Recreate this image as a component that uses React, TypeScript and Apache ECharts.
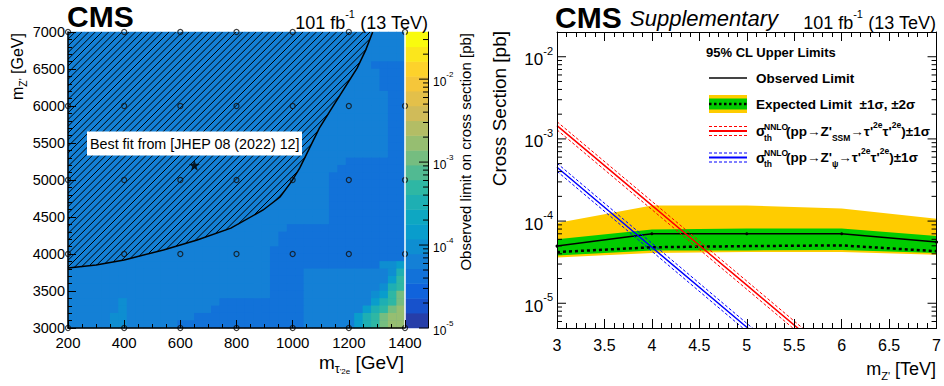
import React, { useEffect, useRef } from "react";
import * as echarts from "echarts";

const FONT = "'Liberation Sans', Arial, Helvetica, sans-serif";

// ================= Left panel: (m_tau', m_Z') scan =================
const tauAxisRange = [200, 1400];
const zAxisRange = [3000, 7000];
const tauScanPoints = [200, 400, 600, 800, 1000, 1200, 1400];
const zScanPoints = [3000, 4000, 5000, 6000, 7000];
const bestFit = [650, 5200];
// observed exclusion contour (GeV, GeV)
const exclusionContour = [
  [200, 3810], [300, 3850], [400, 3920], [540, 4055], [660, 4190], [780, 4350],
  [895, 4595], [955, 4770], [995, 4975], [1025, 5160], [1060, 5430], [1095, 5700],
  [1140, 5975], [1185, 6245], [1230, 6515], [1260, 6755], [1285, 7000],
];
// observed limit (pb) for each colour class seen in the map
const limitLevels: Record<string, number> = {
  A: 4.2e-5, B: 6.4e-5, C: 9.6e-5, D: 1.45e-4, E: 3.3e-4, F: 5.2e-4, G: 1.1e-3, H: 1.7e-3,
};
// 40 x 40 cells (30 GeV x 100 GeV), run-length encoded, top row (6900-7000 GeV) first
const limitRows = [
  "40B", "40B", "40B", "40B",
  "36B 4A", "37B 3A", "37B 3A", "37B 3A",
  "38B 2A", "38B 2A", "38B 2A", "38B 2A", "38B 2A", "38B 2A", "38B 2A", "38B 2A", "38B 2A",
  "33B 7A", "32B 8A",
  "31B 9A", "31B 9A", "31B 9A", "31B 9A", "31B 9A", "31B 9A", "31B 9A",
  "26B 14A", "25B 15A", "25B 15A", "24B 16A", "24B 16A",
  "24B 13A 2C 1D",
  "24B 4A 10B 1C 1E",
  "24B 4A 10B 1D 1F",
  "24B 4A 9B 1C 1E 1F",
  "24B 4A 8B 1C 1D 1F 1G",
  "6B 1C 11B 10A 8B 1D 1E 1F 1G",
  "6B 1C 10B 11A 7B 1D 1E 1F 1G 1H",
  "5B 2C 8B 13A 6B 1D 1E 1F 1G 2H",
  "5B 2C 6B 15A 6B 1D 1E 1F 1G 2H",
];
const colorbarRange = [1e-5, 0.037];
const colorbarContours = 20;
const colorbarDecades = [1e-5, 1e-4, 1e-3, 1e-2];

// ================= Right panel: limits vs m_Z' =================
const mZprime = [3, 4, 5, 6, 7];
const observedLimit = [4.96e-5, 7.0e-5, 7.0e-5, 7.0e-5, 5.55e-5];
const expectedLimit = [4.2e-5, 4.8e-5, 4.96e-5, 5.06e-5, 4.3e-5];
const expected1Up = [6.0e-5, 7.9e-5, 8.1e-5, 8.1e-5, 6.6e-5];
const expected1Down = [3.8e-5, 4.4e-5, 4.4e-5, 4.45e-5, 4.1e-5];
const expected2Up = [9.5e-5, 1.55e-4, 1.55e-4, 1.42e-4, 1.07e-4];
const expected2Down = [3.6e-5, 4.1e-5, 4.2e-5, 4.2e-5, 3.9e-5];
const xsecSSM = [1.45e-3, 1.55e-4, 1.66e-5, 1.77e-6, 1.9e-7];
const xsecSSMUp = [1.62e-3, 1.74e-4, 1.86e-5, 1.98e-6, 2.1e-7];
const xsecSSMDown = [1.29e-3, 1.38e-4, 1.48e-5, 1.58e-6, 1.7e-7];
const xsecPsi = [4.52e-4, 4.8e-5, 5.1e-6, 5.4e-7, 5.7e-8];
const xsecPsiUp = [5.06e-4, 5.38e-5, 5.7e-6, 6.05e-7, 6.4e-8];
const xsecPsiDown = [4.04e-4, 4.29e-5, 4.55e-6, 4.8e-7, 5.1e-8];
const rightXRange = [3, 7];
const rightYRange = [5e-6, 2e-2];
const rightYDecades = [1e-5, 1e-4, 1e-3, 1e-2];

// ---------- helpers ----------
const birdStops = [0, 0.125, 0.25, 0.375, 0.5, 0.625, 0.75, 0.875, 1];
const birdR = [0.2082, 0.0592, 0.078, 0.0232, 0.1802, 0.5301, 0.8186, 0.9956, 0.9764];
const birdG = [0.1664, 0.3599, 0.5041, 0.6419, 0.7178, 0.7492, 0.7328, 0.7862, 0.9832];
const birdB = [0.5293, 0.8684, 0.8385, 0.7914, 0.6425, 0.4662, 0.3499, 0.1968, 0.0539];
function bird(f: number): string {
  let k = 0;
  while (k < birdStops.length - 2 && f > birdStops[k + 1]) k++;
  const t = (f - birdStops[k]) / (birdStops[k + 1] - birdStops[k]);
  const c = (a: number[]) => Math.round(255 * (a[k] + t * (a[k + 1] - a[k])));
  return `rgb(${c(birdR)},${c(birdG)},${c(birdB)})`;
}

function decodeRow(s: string): string[] {
  const out: string[] = [];
  s.split(" ").forEach((tok) => {
    const n = parseInt(tok, 10);
    const ch = tok.replace(/\d+/g, "");
    for (let k = 0; k < n; k++) out.push(ch);
  });
  return out;
}

function decadeMinors(decades: number[], lo: number, hi: number): number[] {
  const out: number[] = [];
  const all = [decades[0] / 10, ...decades];
  all.forEach((d) => {
    for (let m = 2; m <= 9; m++) {
      const v = d * m;
      if (v > lo * 1.0001 && v < hi * 0.9999) out.push(v);
    }
  });
  return out;
}

function hatchSegments(poly: number[][], step: number): number[][] {
  const sums = poly.map((p) => p[0] + p[1]);
  const sMin = Math.min(...sums);
  const sMax = Math.max(...sums);
  const segs: number[][] = [];
  for (let c = Math.ceil(sMin / step) * step; c <= sMax; c += step) {
    const xs: number[] = [];
    for (let k = 0; k < poly.length; k++) {
      const a = poly[k];
      const b = poly[(k + 1) % poly.length];
      const fa = a[0] + a[1] - c;
      const fb = b[0] + b[1] - c;
      if (fa < 0 !== fb < 0) {
        const t = fa / (fa - fb);
        xs.push(a[0] + t * (b[0] - a[0]));
      }
    }
    xs.sort((u, v) => u - v);
    for (let k = 0; k + 1 < xs.length; k += 2) segs.push([xs[k], c - xs[k], xs[k + 1], c - xs[k + 1]]);
  }
  return segs;
}

const isDecade = (v: number) => Math.abs(Math.log10(v) - Math.round(Math.log10(v))) < 1e-6;

function buildOption(): any {
  const nRows = limitRows.length;
  const nCols = decodeRow(limitRows[0]).length;
  const heatData: number[][] = [];
  limitRows.forEach((row, r) => {
    const j = nRows - 1 - r;
    decodeRow(row).forEach((ch, i) => heatData.push([i, j, Math.log10(limitLevels[ch])]));
  });

  const logMin = Math.log10(colorbarRange[0]);
  const logMax = Math.log10(colorbarRange[1]);
  const bw = (logMax - logMin) / colorbarContours;
  const pieces: any[] = [];
  const cbarData: number[][] = [];
  for (let k = 0; k < colorbarContours; k++) {
    const p: any = { gte: logMin + k * bw, color: bird((k + 0.99) / colorbarContours) };
    if (k < colorbarContours - 1) p.lt = logMin + (k + 1) * bw;
    else p.lte = logMax + 1;
    if (k === 0) p.gte = logMin - 1;
    pieces.push(p);
    cbarData.push([0, k, logMin + (k + 0.5) * bw]);
  }

  const scanData: number[][] = [];
  zScanPoints.forEach((z) => tauScanPoints.forEach((t) => scanData.push([t, z])));

  const cbarMinors = decadeMinors(colorbarDecades, colorbarRange[0], colorbarRange[1]);
  const cbarTicks = [...colorbarDecades.map((v) => [1, v, 1]), ...cbarMinors.map((v) => [1, v, 0])];
  const rightMinors = decadeMinors(rightYDecades, rightYRange[0], rightYRange[1]);
  const rightTicks = [...rightYDecades.map((v) => [3, v, 1]), ...rightMinors.map((v) => [3, v, 0])];

  const black = "#000";
  const label = (size: number, margin: number) => ({
    fontSize: size, color: black, fontFamily: FONT, margin,
    formatter: (v: number) => String(v),
  });
  const supLabel = (base: number, sup: number, margin: number) => ({
    margin,
    formatter: (v: number) => (isDecade(v) ? `{b|10}{s|${Math.round(Math.log10(v))}}` : ""),
    rich: {
      b: { fontSize: base, fontFamily: FONT, color: black, lineHeight: base + 6, verticalAlign: "bottom" },
      s: { fontSize: sup, fontFamily: FONT, color: black, lineHeight: sup + 1, verticalAlign: "top" },
    },
  });

  const line = (vals: number[], color: string, width: number, type: any, z = 6) => ({
    type: "line",
    xAxisIndex: 4,
    yAxisIndex: 5,
    data: mZprime.map((m, i) => [m, vals[i]]),
    symbol: "none",
    silent: true,
    z,
    lineStyle: { color, width, type },
  });

  const band = (up: number[], down: number[], color: string, z: number) => ({
    type: "custom",
    xAxisIndex: 4,
    yAxisIndex: 5,
    z,
    silent: true,
    data: [[mZprime[0], up[0]]],
    renderItem: (_p: any, api: any) => {
      const pts = [
        ...mZprime.map((m, i) => api.coord([m, up[i]])),
        ...mZprime.map((m, i) => api.coord([m, down[i]])).reverse(),
      ];
      return { type: "polygon", shape: { points: pts }, style: { fill: color } };
    },
  });

  // ---------- graphics (texts, legend) ----------
  const T = (x: number, y: number, text: string, style: any = {}, extra: any = {}) => ({
    type: "text",
    x,
    y,
    z: 100,
    silent: true,
    style: { text, fontFamily: FONT, fill: black, verticalAlign: "middle", align: "left", ...style },
    ...extra,
  });
  const R = (fs: number, lh: number, va: string, bold = false, italic = false) => ({
    fontSize: fs, fontFamily: FONT, fill: black, lineHeight: lh, verticalAlign: va,
    fontWeight: bold ? "bold" : "normal", fontStyle: italic ? "italic" : "normal",
  });
  const lumi = (x: number, y: number) =>
    T(x, y, "{a|101 fb}{s|-1}{a| (13 TeV)}", {
      align: "right",
      rich: { a: R(18, 24, "bottom"), s: R(11, 12, "top") },
    });
  const L = (x1: number, y1: number, x2: number, y2: number, stroke: string, lineWidth: number, lineDash?: number[]) => ({
    type: "line", z: 100, silent: true,
    shape: { x1, y1, x2, y2 },
    style: { stroke, lineWidth, lineDash },
  });
  const legRich = {
    m: R(13.5, 22, "middle", true),
    b: R(8.5, 15, "bottom", true),
    t: R(8.5, 13, "top", true),
  };
  const graphic = [
    // headers
    T(67, 16, "CMS", { fontSize: 30, fontWeight: "bold" }),
    lumi(428, 20),
    T(555, 17, "CMS", { fontSize: 30, fontWeight: "bold" }),
    T(630, 18, "Supplementary", { fontSize: 22, fontStyle: "italic" }),
    lumi(936, 20),
    // axis titles
    T(17.5, 33, "{a|m}{b|Z'}{a| [GeV]}", { align: "right", rich: { a: R(16, 22, "middle"), b: R(10.5, 16, "bottom") } }, { rotation: Math.PI / 2 }),
    T(404, 362, "{a|m}{b|τ}{c|'2e}{a| [GeV]}", {
      align: "right",
      rich: { a: R(19, 26, "middle"), b: R(12.5, 19, "bottom"), c: R(8, 17, "bottom") },
    }),
    T(465.5, 33, "Observed limit on cross section [pb]", { align: "right", fontSize: 15 }, { rotation: Math.PI / 2 }),
    T(499, 31, "Cross Section [pb]", { align: "right", fontSize: 19 }, { rotation: Math.PI / 2 }),
    T(936, 369, "{a|m}{b|Z'}{a| [TeV]}", { align: "right", rich: { a: R(18, 24, "middle"), b: R(11, 18, "bottom") } }),
    // best-fit label
    { type: "rect", z: 50, silent: true, shape: { x: 87, y: 131.5, width: 215, height: 24 }, style: { fill: "#fff" } },
    T(90, 143.5, "Best fit from [JHEP 08 (2022) 12]", { fontSize: 14.3 }, { z: 51 }),
    // legend
    T(706, 52, "95% CL Upper Limits", { fontSize: 13, fontWeight: "bold" }),
    L(709, 78, 747, 78, "#444", 2),
    T(756, 78, "Observed Limit", { fontSize: 13.5, fontWeight: "bold" }),
    { type: "rect", z: 99, silent: true, shape: { x: 709, y: 95, width: 38, height: 18 }, style: { fill: "#ffcc00" } },
    { type: "rect", z: 99, silent: true, shape: { x: 709, y: 98.5, width: 38, height: 11 }, style: { fill: "#00cc00" } },
    L(709, 104, 747, 104, black, 2.5, [2.5, 2.5]),
    T(756, 104, "Expected Limit  ±1σ, ±2σ", { fontSize: 13.5, fontWeight: "bold" }),
    L(709, 131, 747, 131, "#ff0000", 2),
    L(709, 126.5, 747, 126.5, "#ff0000", 1, [3, 2]),
    L(709, 135.5, 747, 135.5, "#ff0000", 1, [3, 2]),
    T(756, 131, "σ", { fontSize: 14, fontWeight: "bold" }),
    T(764, 126.5, "NNLO", { fontSize: 8.5, fontWeight: "bold" }),
    T(764, 137.5, "th", { fontSize: 8.5, fontWeight: "bold" }),
    T(786, 131, "{m|(pp→Z'}{b|SSM}{m|→τ'}{t|2e}{m|τ'}{t|2e}{m|)±1σ}", { rich: legRich }),
    L(709, 157.5, 747, 157.5, "#0000ff", 2),
    L(709, 153, 747, 153, "#0000ff", 1, [3, 2]),
    L(709, 162, 747, 162, "#0000ff", 1, [3, 2]),
    T(756, 157.5, "σ", { fontSize: 14, fontWeight: "bold" }),
    T(764, 153, "NNLO", { fontSize: 8.5, fontWeight: "bold" }),
    T(764, 164, "th", { fontSize: 8.5, fontWeight: "bold" }),
    T(786, 157.5, "{m|(pp→Z'}{b|ψ}{m|→τ'}{t|2e}{m|τ'}{t|2e}{m|)±1σ}", { rich: legRich }),
  ];

  const leftRect = { left: 68, top: 32, width: 337, height: 296 };
  const cbarRect = { left: 405, top: 32, width: 23, height: 296 };
  const rightRect = { left: 557, top: 32, width: 381, height: 296 };
  const hiddenCat = (gridIndex: number, n: number) => ({
    type: "category", gridIndex, show: false, data: Array.from({ length: n }, (_, k) => String(k)),
  });
  const tickStyle = { color: black, width: 1 };

  return {
    animation: false,
    backgroundColor: "#fff",
    grid: [
      { ...leftRect, show: true, backgroundColor: bird(4.99 / colorbarContours), borderWidth: 0 },
      { ...leftRect },
      { ...cbarRect },
      { ...cbarRect },
      { ...rightRect },
    ],
    xAxis: [
      hiddenCat(0, nCols),
      {
        type: "value", gridIndex: 1, min: tauAxisRange[0], max: tauAxisRange[1], interval: 200, position: "bottom", z: 10,
        axisLine: { show: true, onZero: false, lineStyle: { color: black, width: 1.5 } },
        axisTick: { show: true, inside: true, length: 8, lineStyle: tickStyle },
        minorTick: { show: true, splitNumber: 4, length: 4, lineStyle: tickStyle },
        splitLine: { show: false },
        axisLabel: label(15, 7),
      },
      hiddenCat(2, 1),
      { type: "value", gridIndex: 3, min: 0, max: 1, show: false },
      {
        type: "value", gridIndex: 4, min: rightXRange[0], max: rightXRange[1], interval: 0.5, position: "bottom", z: 10,
        axisLine: { show: true, onZero: false, lineStyle: { color: black, width: 1 } },
        axisTick: { show: true, inside: true, length: 9, lineStyle: tickStyle },
        minorTick: { show: true, splitNumber: 5, length: 5, lineStyle: tickStyle },
        splitLine: { show: false },
        axisLabel: label(16, 9),
      },
      {
        type: "value", gridIndex: 4, min: rightXRange[0], max: rightXRange[1], interval: 0.5, position: "top", z: 10,
        axisLine: { show: true, onZero: false, lineStyle: { color: black, width: 1 } },
        axisTick: { show: true, inside: true, length: 9, lineStyle: tickStyle },
        minorTick: { show: true, splitNumber: 5, length: 5, lineStyle: tickStyle },
        splitLine: { show: false },
        axisLabel: { show: false },
      },
    ],
    yAxis: [
      hiddenCat(0, nRows),
      {
        type: "value", gridIndex: 1, min: zAxisRange[0], max: zAxisRange[1], interval: 500, position: "left", z: 10,
        axisLine: { show: true, onZero: false, lineStyle: { color: black, width: 1.5 } },
        axisTick: { show: true, inside: true, length: 8, lineStyle: tickStyle },
        minorTick: { show: true, splitNumber: 5, length: 4, lineStyle: tickStyle },
        splitLine: { show: false },
        axisLabel: label(14.5, 3),
      },
      {
        type: "value", gridIndex: 1, min: zAxisRange[0], max: zAxisRange[1], position: "right", z: 10,
        axisLine: { show: true, onZero: false, lineStyle: { color: "#fff", width: 1.5 } },
        axisTick: { show: false }, axisLabel: { show: false }, splitLine: { show: false },
      },
      hiddenCat(2, colorbarContours),
      {
        type: "log", gridIndex: 3, min: colorbarRange[0], max: colorbarRange[1], position: "right", z: 10,
        axisLine: { show: true, onZero: false, lineStyle: { color: black, width: 1 } },
        axisTick: { show: false }, splitLine: { show: false }, minorTick: { show: false },
        axisLabel: supLabel(12, 8, 5),
      },
      {
        type: "log", gridIndex: 4, min: rightYRange[0], max: rightYRange[1], position: "left", z: 10,
        axisLine: { show: true, onZero: false, lineStyle: { color: black, width: 1 } },
        axisTick: { show: false }, splitLine: { show: false }, minorTick: { show: false },
        axisLabel: supLabel(17, 11, 4),
      },
      {
        type: "log", gridIndex: 4, min: rightYRange[0], max: rightYRange[1], position: "right", z: 10,
        axisLine: { show: true, onZero: false, lineStyle: { color: black, width: 1 } },
        axisTick: { show: false }, splitLine: { show: false }, axisLabel: { show: false },
      },
    ],
    visualMap: [{ type: "piecewise", show: false, dimension: 2, seriesIndex: [0, 1], pieces }],
    series: [
      { type: "heatmap", xAxisIndex: 0, yAxisIndex: 0, data: heatData, silent: true, progressive: 0, itemStyle: { borderWidth: 0 } },
      { type: "heatmap", xAxisIndex: 2, yAxisIndex: 3, data: cbarData, silent: true, progressive: 0, itemStyle: { borderWidth: 0 } },
      {
        type: "custom", xAxisIndex: 1, yAxisIndex: 1, z: 5, silent: true, clip: true,
        data: [exclusionContour[0]],
        renderItem: (_p: any, api: any) => {
          const pts = exclusionContour.map((p) => api.coord(p));
          const corner = api.coord([tauAxisRange[0], zAxisRange[1]]);
          const poly = [...pts, corner];
          const children: any[] = hatchSegments(poly, 6.7).map((s) => ({
            type: "line", shape: { x1: s[0], y1: s[1], x2: s[2], y2: s[3] }, style: { stroke: black, lineWidth: 1 },
          }));
          children.push({ type: "polyline", shape: { points: pts }, style: { stroke: black, lineWidth: 1.5, fill: "none" } });
          return { type: "group", children };
        },
      },
      {
        type: "scatter", xAxisIndex: 1, yAxisIndex: 1, z: 6, silent: true, clip: false,
        symbol: "circle", symbolSize: 5, data: scanData,
        itemStyle: { color: "rgba(0,0,0,0)", borderColor: "#111", borderWidth: 1.2 },
      },
      {
        type: "scatter", xAxisIndex: 1, yAxisIndex: 1, z: 7, silent: true,
        symbol: "path://M0,-10L2.35,-3.24L9.51,-3.09L3.8,1.24L5.88,8.09L0,4L-5.88,8.09L-3.8,1.24L-9.51,-3.09L-2.35,-3.24Z",
        symbolSize: 11, data: [bestFit], itemStyle: { color: black },
      },
      {
        type: "custom", xAxisIndex: 3, yAxisIndex: 4, z: 10, silent: true, data: cbarTicks,
        renderItem: (_p: any, api: any) => {
          const p = api.coord([api.value(0), api.value(1)]);
          const len = api.value(2) ? 9 : 5;
          return { type: "line", shape: { x1: p[0] - len, y1: p[1], x2: p[0], y2: p[1] }, style: { stroke: black, lineWidth: 1 } };
        },
      },
      band(expected2Up, expected2Down, "#ffcc00", 2),
      band(expected1Up, expected1Down, "#00cc00", 3),
      { ...line(observedLimit, black, 1.5, "solid", 5), symbol: "circle", symbolSize: 3, showSymbol: true, itemStyle: { color: black } },
      line(expectedLimit, black, 2.5, [3, 3], 5),
      line(xsecSSM, "#ff0000", 1.5, "solid"),
      line(xsecSSMUp, "#ff0000", 1, [3, 2]),
      line(xsecSSMDown, "#ff0000", 1, [3, 2]),
      line(xsecPsi, "#0000ff", 1.5, "solid"),
      line(xsecPsiUp, "#0000ff", 1, [3, 2]),
      line(xsecPsiDown, "#0000ff", 1, [3, 2]),
      {
        type: "custom", xAxisIndex: 4, yAxisIndex: 5, z: 10, silent: true, data: rightTicks,
        renderItem: (_p: any, api: any) => {
          const v = api.value(1);
          const len = api.value(2) ? 9 : 5;
          const a = api.coord([rightXRange[0], v]);
          const b = api.coord([rightXRange[1], v]);
          return {
            type: "group",
            children: [
              { type: "line", shape: { x1: a[0], y1: a[1], x2: a[0] + len, y2: a[1] }, style: { stroke: black, lineWidth: 1 } },
              { type: "line", shape: { x1: b[0] - len, y1: b[1], x2: b[0], y2: b[1] }, style: { stroke: black, lineWidth: 1 } },
            ],
          };
        },
      },
    ],
    graphic,
  };
}

export default function App() {
  const ref = useRef<HTMLDivElement>(null);
  useEffect(() => {
    const el = ref.current;
    if (!el) return;
    const chart = echarts.init(el, null, { renderer: "svg" });
    chart.setOption(buildOption());
    return () => chart.dispose();
  }, []);
  return (
    <div
      ref={ref}
      style={{ position: "fixed", left: 0, top: 0, width: 944, height: 386, background: "#fff" }}
    />
  );
}
